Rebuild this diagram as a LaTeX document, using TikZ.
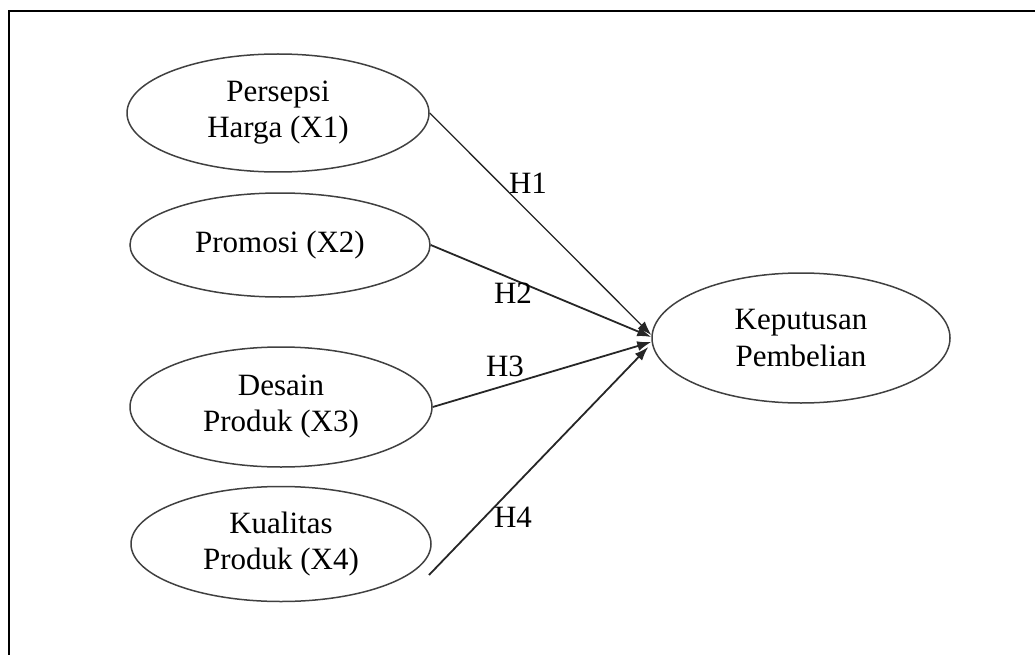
\documentclass[tikz,border=0pt]{standalone}
\usepackage{fontspec}
\setmainfont{Liberation Serif}
\usepackage{tikz}
\usetikzlibrary{arrows.meta,shapes.geometric}

\tikzset{
  var/.style={ellipse, draw=black!75, line width=1.5pt, inner sep=0pt, align=center,
    font=\fontsize{31}{36}\selectfont},
  hyp/.style={line width=1.8pt, draw=black!85, -{Latex[length=14pt,width=10pt]}},
  lbl/.style={font=\fontsize{31}{36}\selectfont}
}

\begin{document}
\begin{tikzpicture}[x=1pt,y=-1pt]
					\useasboundingbox (0,0) rectangle (1035,655);
					\draw[line width=2.8pt] (9,655) -- (9,11) -- (1035,11);
					
					% variabel bebas
					\node[var, minimum width=302pt, minimum height=118pt] (x1) at (278,113) {Persepsi\\Harga (X1)};
					\node[var, minimum width=300pt, minimum height=104pt] (x2) at (280,245) {\raisebox{5pt}{Promosi (X2)}};
					\node[var, minimum width=302pt, minimum height=120pt] (x3) at (281,407) {Desain\\Produk (X3)};
					\node[var, minimum width=300pt, minimum height=115pt] (x4) at (281,544) {Kualitas\\Produk (X4)};
					% variabel terikat
					\node[var, minimum width=298pt, minimum height=130pt] (kp) at (801,338) {Keputusan\\Pembelian};
					
					\coordinate (s4) at (429,575);
					\draw[hyp, line width=1.3pt] (x1.east) -- ([yshift=3pt]kp.west);
					\draw[hyp] (x2.east) -- ([yshift=1pt]kp.west);
					\draw[hyp] (x3.east) -- ([yshift=-4pt]kp.west);
					\draw[hyp] (s4) -- ([xshift=-3pt,yshift=-9pt]kp.west);
					
					\node[lbl] (h1) at (528,183) {H1};
					\node[lbl] (h2) at (513,293) {H2};
					\node[lbl] (h3) at (505,366) {H3};
					\node[lbl] (h4) at (513,517) {H4};
				\end{tikzpicture}
\end{document}
